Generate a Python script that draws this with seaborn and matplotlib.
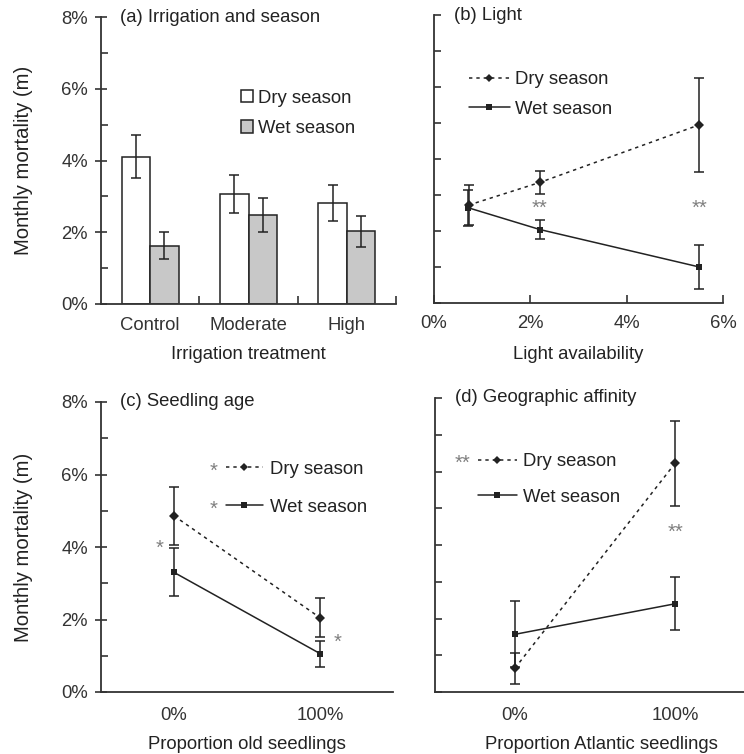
import numpy as np
import pandas as pd
import matplotlib
matplotlib.use("Agg")
import matplotlib.pyplot as plt
import seaborn as sns
from matplotlib.lines import Line2D
from matplotlib.ticker import FixedLocator, FuncFormatter

# ---- data (monthly mortality, %) ----
seasons = ["Dry season", "Wet season"]

# (a) irrigation
irrigation = ["Control", "Moderate", "High"]
irr_dry = [4.10, 3.07, 2.82]
irr_dry_err = [0.60, 0.53, 0.51]
irr_wet = [1.63, 2.49, 2.03]
irr_wet_err = [0.37, 0.47, 0.43]

# (b) light
light_dry_x = [0.72, 2.20, 5.51]
light_dry = [2.72, 3.35, 4.95]
light_dry_err = [0.55, 0.32, 1.30]
light_wet_x = [0.70, 2.20, 5.51]
light_wet = [2.65, 2.04, 1.00]
light_wet_err = [0.50, 0.26, 0.62]

# (c) seedling age
age_labels = ["0%", "100%"]
age_dry = [4.86, 2.05]
age_dry_err = [0.80, 0.53]
age_wet = [3.30, 1.06]
age_wet_err = [0.66, 0.36]

# (d) geographic affinity
geo_labels = ["0%", "100%"]
geo_dry = [0.65, 6.22]
geo_dry_err = [0.42, 1.15]
geo_wet = [1.57, 2.40]
geo_wet_err = [0.90, 0.72]

W, H = 744, 754
FS = 13.3
INK = "#222222"
STAR = "#808080"

sns.set_style("ticks")
plt.rcParams["font.family"] = ["Liberation Sans", "DejaVu Sans"]
plt.rcParams["font.size"] = FS
plt.rcParams["text.color"] = INK
plt.rcParams["axes.labelcolor"] = INK
plt.rcParams["xtick.color"] = "#333333"
plt.rcParams["ytick.color"] = "#333333"
plt.rcParams["axes.edgecolor"] = "#333333"
plt.rcParams["axes.linewidth"] = 1.3

fig = plt.figure(figsize=(W / 100, H / 100), dpi=100)


def px_axes(left, top, right, bottom):
    return fig.add_axes([left / W, 1 - bottom / H, (right - left) / W, (bottom - top) / H])


def style_y(ax, labels=True):
    ax.set_ylim(0, 8)
    ax.yaxis.set_major_locator(FixedLocator([0, 2, 4, 6, 8]))
    ax.yaxis.set_minor_locator(FixedLocator([1, 3, 5, 7]))
    if labels:
        ax.yaxis.set_major_formatter(FuncFormatter(lambda v, p: f"{v:.0f}%"))
        ax.tick_params(axis="y", which="major", direction="inout", length=9,
                       width=1.2, pad=5, labelsize=FS)
        ax.tick_params(axis="y", which="minor", direction="in", length=5, width=1.2)
        ax.set_ylabel("Monthly mortality (m)", fontsize=14.6)
        ax.yaxis.set_label_coords(-0.232, 0.5)
    else:
        ax.set_yticklabels([])
        ax.tick_params(axis="y", which="both", direction="in", length=5, width=1.2)
        ax.set_ylabel("")
    sns.despine(ax=ax)


def line_panel(ax, x_dry, dry, dry_err, x_wet, wet, wet_err):
    df = pd.DataFrame({
        "x": list(x_dry) + list(x_wet),
        "m": list(dry) + list(wet),
        "season": [seasons[0]] * len(dry) + [seasons[1]] * len(wet),
    })
    sns.lineplot(data=df, x="x", y="m", hue="season", style="season",
                 palette={seasons[0]: INK, seasons[1]: INK},
                 dashes={seasons[0]: (2.2, 2.6), seasons[1]: ""},
                 markers={seasons[0]: "D", seasons[1]: "s"},
                 markersize=5, linewidth=1.1, markeredgewidth=0,
                 legend=False, ax=ax, zorder=3)
    ax.errorbar(x_dry, dry, yerr=dry_err, fmt="none", ecolor=INK,
                elinewidth=1.1, capsize=3.8, capthick=1.1, zorder=2)
    ax.errorbar(x_wet, wet, yerr=wet_err, fmt="none", ecolor=INK,
                elinewidth=1.1, capsize=3.8, capthick=1.1, zorder=2)


def line_legend(ax, anchor, handlelength, textpad, spacing):
    handles = [
        Line2D([], [], color=INK, lw=1.1, ls=(0, (2.2, 2.6)), marker="D", markersize=4.5,
               markeredgewidth=0),
        Line2D([], [], color=INK, lw=1.1, ls="-", marker="s", markersize=5,
               markeredgewidth=0),
    ]
    ax.legend(handles, seasons, loc="center left", bbox_to_anchor=anchor,
              frameon=False, borderpad=0, borderaxespad=0,
              handlelength=handlelength, handletextpad=textpad,
              labelspacing=spacing, fontsize=FS)


def stars(ax, x, y, s):
    ax.text(x, y, s, color=STAR, ha="center", va="center", fontsize=14.5)


# ---------------- (a) ----------------
ax = px_axes(101, 17, 396, 304)
df_a = pd.DataFrame({
    "treatment": irrigation * 2,
    "m": irr_dry + irr_wet,
    "season": [seasons[0]] * 3 + [seasons[1]] * 3,
})
sns.barplot(data=df_a, x="treatment", y="m", hue="season", order=irrigation,
            hue_order=seasons, palette={seasons[0]: "white", seasons[1]: "#c8c8c8"},
            edgecolor=INK, linewidth=1.1, width=0.58, errorbar=None, ax=ax)
for cont, errs in zip(ax.containers, [irr_dry_err, irr_wet_err]):
    xs = [b.get_x() + b.get_width() / 2 for b in cont]
    ys = [b.get_height() for b in cont]
    ax.errorbar(xs, ys, yerr=errs, fmt="none", ecolor=INK, elinewidth=1.1,
                capsize=3.8, capthick=1.1, zorder=3)
ax.set_xlim(-0.5, 2.5)
style_y(ax)
ax.xaxis.set_minor_locator(FixedLocator([0.5, 1.5, 2.5]))
ax.tick_params(axis="x", which="major", length=0, pad=9, labelsize=FS)
ax.tick_params(axis="x", which="minor", direction="in", length=6, width=1.2)
ax.set_xlabel("Irrigation treatment", fontsize=FS)
ax.xaxis.set_label_coords(0.5, -0.146)
sns.move_legend(ax, "center left", bbox_to_anchor=(0.473, 0.664), title=None,
                frameon=False, borderpad=0, borderaxespad=0, handlelength=0.65,
                handleheight=0.65, handletextpad=0.3, labelspacing=0.72, fontsize=FS)
ax.text(0.065, 1.0, "(a) Irrigation and season", transform=ax.transAxes,
        ha="left", va="center", fontsize=FS)

# ---------------- (b) ----------------
ax = px_axes(434, 15, 723, 303)
line_panel(ax, light_dry_x, light_dry, light_dry_err, light_wet_x, light_wet, light_wet_err)
ax.set_xlim(0, 6)
ax.xaxis.set_major_locator(FixedLocator([0, 2, 4, 6]))
ax.xaxis.set_major_formatter(FuncFormatter(lambda v, p: f"{v:.0f}%"))
ax.tick_params(axis="x", which="major", direction="in", length=6, width=1.2,
               pad=9, labelsize=FS)
style_y(ax, labels=False)
ax.set_xlabel("Light availability", fontsize=FS)
ax.xaxis.set_label_coords(0.5, -0.149)
line_legend(ax, (0.121, 0.724), 2.2, 0.3, 0.68)
for xv in [light_dry_x[1], light_dry_x[2]]:
    stars(ax, xv, 2.62, "**")
ax.text(0.069, 1.0, "(b) Light", transform=ax.transAxes,
        ha="left", va="center", fontsize=FS)

# ---------------- (c) ----------------
ax = px_axes(101, 402, 393, 692)
pos = [0, 1]
line_panel(ax, pos, age_dry, age_dry_err, pos, age_wet, age_wet_err)
ax.set_xlim(-0.5, 1.5)
ax.xaxis.set_major_locator(FixedLocator(pos))
ax.set_xticklabels(age_labels)
ax.tick_params(axis="x", which="major", length=0, pad=11, labelsize=FS)
style_y(ax)
ax.set_xlabel("Proportion old seedlings", fontsize=FS)
ax.xaxis.set_label_coords(0.5, -0.151)
line_legend(ax, (0.428, 0.703), 2.0, 0.38, 1.15)
stars(ax, -0.1, 3.95, "*")
stars(ax, 1.12, 1.37, "*")
stars(ax, 0.27, 6.1, "*")
stars(ax, 0.27, 5.05, "*")
ax.text(0.065, 1.0, "(c) Seedling age", transform=ax.transAxes,
        ha="left", va="center", fontsize=FS)

# ---------------- (d) ----------------
ax = px_axes(435, 398, 755, 692)
line_panel(ax, pos, geo_dry, geo_dry_err, pos, geo_wet, geo_wet_err)
ax.set_xlim(-0.5, 1.5)
ax.xaxis.set_major_locator(FixedLocator(pos))
ax.set_xticklabels(geo_labels)
ax.tick_params(axis="x", which="major", length=0, pad=11, labelsize=FS)
style_y(ax, labels=False)
ax.set_xlabel("Proportion Atlantic seedlings", fontsize=FS)
ax.xaxis.set_label_coords(0.52, -0.149)
line_legend(ax, (0.134, 0.723), 2.1, 0.35, 1.0)
stars(ax, 1.0, 4.35, "**")
stars(ax, -0.33, 6.21, "**")
ax.text(0.0625, 1.0, "(d) Geographic affinity", transform=ax.transAxes,
        ha="left", va="center", fontsize=FS)

fig.savefig("out.png", dpi=100)
